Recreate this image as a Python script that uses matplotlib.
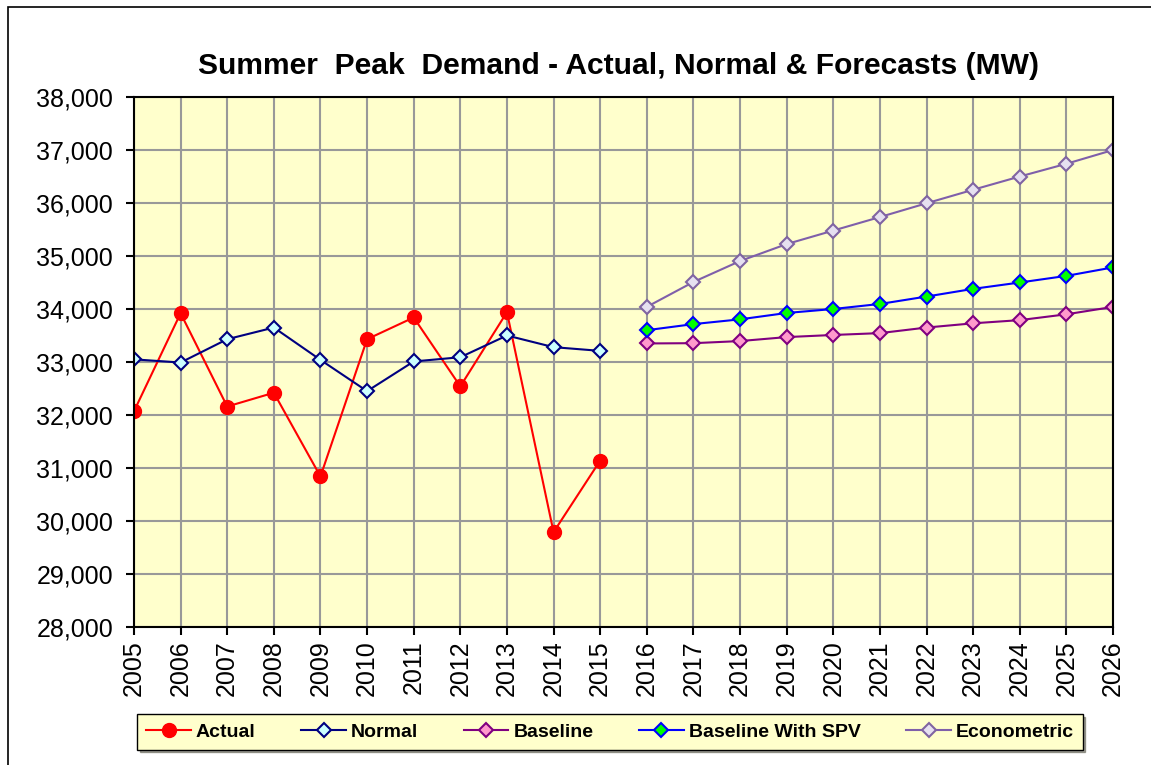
import matplotlib
matplotlib.use("Agg")
from matplotlib import pyplot as plt
from matplotlib.patches import Rectangle
from matplotlib.ticker import FuncFormatter
import numpy as np

plt.rcParams['font.family'] = ['Liberation Sans', 'DejaVu Sans']

years = list(range(2005, 2027))
hist_years = list(range(2005, 2016))
fc_years = list(range(2016, 2027))

actual = [32070, 33920, 32160, 32420, 30840, 33430, 33840, 32540, 33940, 29790, 31140]
normal = [33050, 32990, 33430, 33650, 33040, 32450, 33010, 33090, 33500, 33280, 33210]
baseline = [33350, 33355, 33395, 33470, 33510, 33545, 33650, 33730, 33790, 33900, 34040]
baseline_spv = [33600, 33715, 33805, 33925, 34000, 34095, 34235, 34380, 34500, 34625, 34785]
econometric = [34040, 34510, 34905, 35225, 35480, 35735, 35995, 36250, 36500, 36740, 37000]

fig = plt.figure(figsize=(11.51, 7.65), dpi=100)
ax = fig.add_axes([0.1164, 0.1804, 0.8506, 0.6928])
ax.set_facecolor("#FFFFCC")

# outer chart frame
fig.patches.append(Rectangle((8/1151, -0.1), 1.2, 1 - 7/765 + 0.1, transform=fig.transFigure,
                             fill=False, edgecolor="black", linewidth=1.2))

ax.plot(hist_years, actual, color="red", lw=1.5, marker="o", ms=10,
        mfc="red", mec="red", label="Actual")
ax.plot(hist_years, normal, color="#000080", lw=1.5, marker="D", ms=7,
        mfc="#CCFFFF", mec="#000080", mew=1.5, label="Normal")
ax.plot(fc_years, baseline, color="#800080", lw=1.5, marker="D", ms=7,
        mfc="#FF99CC", mec="#800080", mew=1.5, label="Baseline")
ax.plot(fc_years, baseline_spv, color="#0000FF", lw=1.5, marker="D", ms=7,
        mfc="#00FF00", mec="#0000FF", mew=1.5, label="Baseline With SPV")
ax.plot(fc_years, econometric, color="#7F5FAA", lw=1.5, marker="D", ms=7,
        mfc="#E6E0F0", mec="#8064A2", mew=1.5, label="Econometric")

ax.set_xlim(2005, 2026)
ax.set_ylim(28000, 38000)
ax.set_xticks(years)
ax.set_xticklabels([str(y) for y in years], rotation=90)
ax.set_yticks(np.arange(28000, 38001, 1000))
ax.yaxis.set_major_formatter(FuncFormatter(lambda v, p: f"{int(v):,}"))
ax.tick_params(axis="both", labelsize=18, direction="out", length=6, width=1.5, color="black")
ax.tick_params(axis="y", pad=9)
ax.grid(True, color="#999999", lw=1.5)
ax.set_axisbelow(True)
for s in ax.spines.values():
    s.set_color("black")
    s.set_linewidth(1.5)

fig.text(0.537, 1 - 66/765, "Summer  Peak  Demand - Actual, Normal & Forecasts (MW)",
         ha="center", va="center", fontsize=21.6, fontweight="bold")

leg = fig.legend(loc="center", bbox_to_anchor=(610/1151, 1 - 732/765), ncol=5,
                 prop={"weight": "bold", "size": 14}, frameon=True, fancybox=False,
                 shadow=True, handlelength=2.3, handletextpad=0.25, columnspacing=2.35,
                 borderpad=0.45)
leg.get_frame().set_facecolor("#FFFFCC")
leg.get_frame().set_edgecolor("black")
leg.get_frame().set_linewidth(1)

fig.savefig("out.png", dpi=100)
